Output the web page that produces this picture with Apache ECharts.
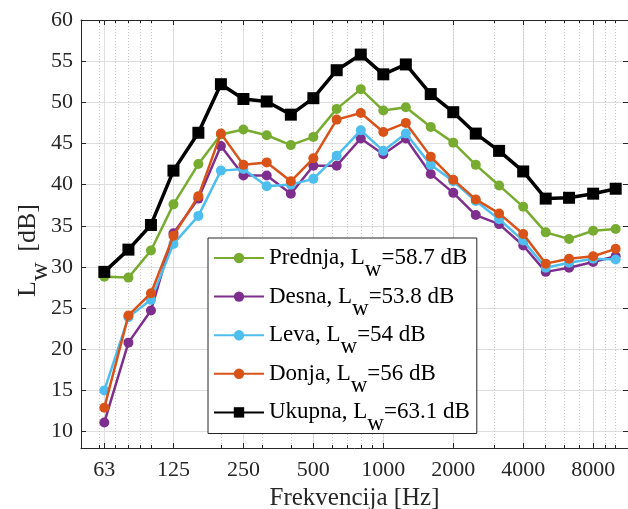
<!DOCTYPE html>
<html><head><meta charset="utf-8">
<script src="https://cdn.jsdelivr.net/npm/echarts@6/dist/echarts.min.js"></script>
<style>html,body{margin:0;padding:0;background:#fff}#c{width:628px;height:509px}</style>
</head><body><div id="c"></div>
<script>
// one-third octave band centre frequencies (Hz)
const frequencies = [63,80,100,125,160,200,250,315,400,500,630,800,1000,1250,1600,2000,2500,3150,4000,5000,6300,8000,10000];
// sound power levels (dB)
const prednja = [28.8,28.7,32.0,37.6,42.5,46.1,46.7,46.0,44.8,45.8,49.2,51.6,49.0,49.4,47.0,45.1,42.4,39.9,37.3,34.2,33.4,34.4,34.6];
const desna   = [11.1,20.8,24.7,34.1,38.3,44.7,41.1,41.1,38.9,42.3,42.3,45.6,43.7,45.6,41.3,39.0,36.3,35.2,32.6,29.4,29.9,30.6,31.3];
const leva    = [15.0,23.9,26.0,32.8,36.2,41.7,41.9,39.8,40.0,40.7,43.5,46.6,44.1,46.2,42.4,40.4,38.0,35.8,33.2,29.9,30.5,31.0,30.9];
const donja   = [12.9,24.1,26.8,33.8,38.6,46.2,42.4,42.7,40.4,43.2,47.9,48.7,46.4,47.5,43.4,40.6,38.2,36.5,34.0,30.4,31.0,31.3,32.2];
const ukupna  = [29.4,32.1,35.1,41.7,46.3,52.2,50.4,50.1,48.5,50.5,53.9,55.8,53.4,54.6,51.0,48.8,46.2,44.1,41.6,38.3,38.4,38.9,39.5];
const seriesNames = ['Prednja','Desna','Leva','Donja','Ukupna'];
const totalLw = ['58.7','53.8','54','56','63.1'];
// axis ticks
const tickFreqs = [63,125,250,500,1000,2000,4000,8000];
const tickLabels = ['63','125','250','500','1000','2000','4000','8000'];
const minorFreqs = [60,70,80,90,100,200,300,400,500,600,700,800,900,1000,2000,3000,4000,5000,6000,7000,8000,9000,10000];
const yTicks = [10,15,20,25,30,35,40,45,50,55,60];
const xLimits = [50, 11300];
const yLimits = [8, 60];

const lg = Math.log10;
const FONT = 'Liberation Serif';
const AX = '#262626';
const colors = ['#77AC30','#7E2F8E','#4DBEEE','#D95319','#000000'];
const values = [prednja, desna, leva, donja, ukupna];

const chart = echarts.init(document.getElementById('c'), null, {renderer:'canvas'});
const gridPos = {left:81, right:0, top:20, bottom:61, containLabel:false, outerBoundsMode:'none'};
const xMin = lg(xLimits[0]), xMax = lg(xLimits[1]);
const majorX = tickFreqs.map(lg), minorX = minorFreqs.map(lg);

function xAxisBase(gridIndex, position) {
  return {type:'value', gridIndex, position, min:xMin, max:xMax,
    axisLine:{show:false, onZero:false, lineStyle:{color:AX, width:1}},
    axisTick:{show:false}, axisLabel:{show:false}, splitLine:{show:false}};
}
const x0 = xAxisBase(0,'bottom');
x0.axisLine.show = true;
x0.axisTick = {show:true, inside:true, length:5, customValues:majorX, lineStyle:{color:AX}};
x0.axisLabel = {show:true, customValues:majorX, margin:11, fontFamily:FONT, fontSize:22, color:AX,
  formatter: v => { const i = majorX.findIndex(m => Math.abs(m - v) < 1e-6); return i >= 0 ? tickLabels[i] : ''; }};
x0.splitLine = {show:true, lineStyle:{color:'#dedede', width:1}};
x0.name = 'Frekvencija [Hz]';
x0.nameLocation = 'middle';
x0.nameGap = 37;
x0.nameTextStyle = {fontFamily:FONT, fontSize:25, color:AX};
const x1 = xAxisBase(0,'top');
x1.axisLine.show = true;
x1.axisTick = {show:true, inside:true, length:5, customValues:majorX, lineStyle:{color:AX}};
const x2 = xAxisBase(1,'bottom');
x2.axisTick = {show:true, inside:true, length:3, customValues:minorX, lineStyle:{color:AX}};
x2.splitLine = {show:true, lineStyle:{color:'#c8c8c8', width:1, type:[1,2]}};
const x3 = xAxisBase(1,'top');
x3.axisTick = {show:true, inside:true, length:3, customValues:minorX, lineStyle:{color:AX}};

const y0 = {type:'value', gridIndex:0, position:'left', min:yLimits[0], max:yLimits[1],
  axisLine:{show:true, lineStyle:{color:AX, width:1}},
  axisTick:{show:true, inside:true, length:5, customValues:yTicks, lineStyle:{color:AX}},
  axisLabel:{show:true, customValues:yTicks, margin:8, fontFamily:FONT, fontSize:22, color:AX},
  splitLine:{show:true, lineStyle:{color:'#dedede', width:1}},
  name:'{n|L}{s|w}{e| [dB]}', nameLocation:'middle', nameRotate:90, nameGap:28, nameMoveOverlap:false,
  nameTextStyle:{fontFamily:FONT, fontSize:26, color:AX,
    rich:{n:{fontFamily:FONT, fontSize:26, color:AX},
          s:{fontFamily:FONT, fontSize:26, color:AX, padding:[24,4,0,0]},
          e:{fontFamily:FONT, fontSize:26, color:AX, padding:[0,33,0,0]}}}};
const y1 = {type:'value', gridIndex:0, position:'right', min:yLimits[0], max:yLimits[1],
  axisLine:{show:true, lineStyle:{color:AX, width:1}},
  axisTick:{show:true, inside:true, length:5, customValues:yTicks, lineStyle:{color:AX}},
  axisLabel:{show:false}, splitLine:{show:false}};
const y2 = {type:'value', gridIndex:1, min:yLimits[0], max:yLimits[1], show:false};

const series = values.map((vals, i) => ({
  name: seriesNames[i], type:'line', xAxisIndex:0, yAxisIndex:0,
  data: frequencies.map((f, j) => [lg(f), vals[j]]),
  symbol: i === 4 ? 'rect' : 'circle', symbolSize: i === 4 ? 12 : 10,
  lineStyle:{color:colors[i], width: i === 4 ? 3.5 : 2.5},
  itemStyle:{color:colors[i]},
  z: 3 + i, emphasis:{disabled:true}, animation:false
}));

chart.setOption({
  animation:false,
  backgroundColor:'#ffffff',
  grid:[Object.assign({}, gridPos), Object.assign({}, gridPos)],
  xAxis:[x0, x1, x2, x3],
  yAxis:[y0, y1, y2],
  legend:{
    orient:'vertical', left:208, top:238, itemWidth:50, itemHeight:13, itemGap:3.6,
    padding:[8.5, 7, -2.4, 5], backgroundColor:'#ffffff', borderColor:AX, borderWidth:1,
    selectedMode:false, z:20,
    data: seriesNames,
    formatter: name => { const i = seriesNames.indexOf(name); return '{n|' + name + ', L}{s|w}{n|=' + totalLw[i] + ' dB}'; },
    textStyle:{fontFamily:FONT, fontSize:23, color:'#000',
      rich:{n:{fontFamily:FONT, fontSize:23, color:'#000'}, s:{fontFamily:FONT, fontSize:23, color:'#000', padding:[24,0,0,0]}}}
  },
  series
});
</script></body></html>
